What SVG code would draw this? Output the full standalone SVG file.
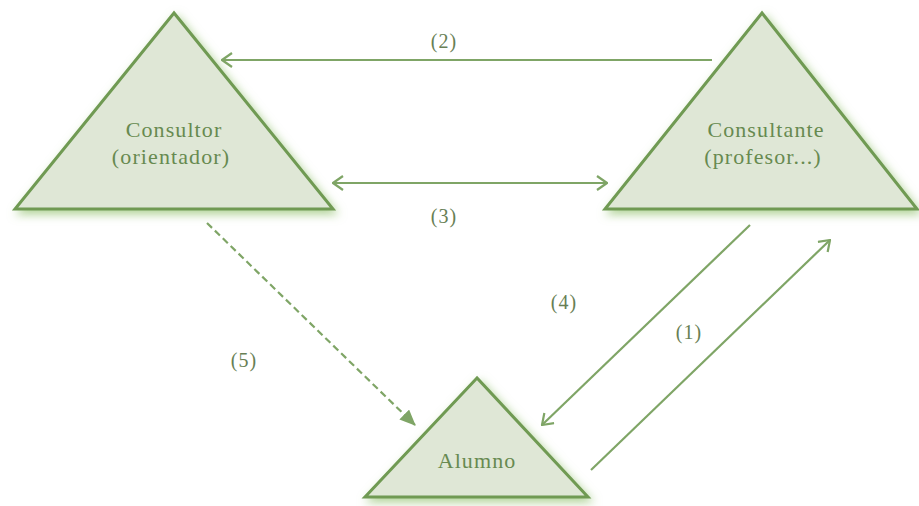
<svg xmlns="http://www.w3.org/2000/svg" width="919" height="506" viewBox="0 0 919 506">
<defs>
<filter id="glow" x="-20%" y="-20%" width="140%" height="140%">
<feGaussianBlur in="SourceAlpha" stdDeviation="5"/>
<feOffset dx="3" dy="4" result="b"/>
<feFlood flood-color="#8fbf6a" flood-opacity="0.7"/>
<feComposite in2="b" operator="in" result="s"/>
<feMerge><feMergeNode in="s"/><feMergeNode in="SourceGraphic"/></feMerge>
</filter>
<marker id="open" viewBox="0 0 12 16" refX="11" refY="8" markerWidth="12" markerHeight="16" markerUnits="userSpaceOnUse" orient="auto-start-reverse">
<path d="M1,1 L11,8 L1,15" fill="none" stroke="#7fa566" stroke-width="2.2"/>
</marker>
<marker id="solid" viewBox="0 0 16 14" refX="15" refY="7" markerWidth="16" markerHeight="14" markerUnits="userSpaceOnUse" orient="auto">
<path d="M0,0 L16,7 L0,14 Z" fill="#7fa566"/>
</marker>
</defs>
<style>
.tri{fill:#dfe7d6;stroke:#6f9a52;stroke-width:3;stroke-linejoin:miter;filter:url(#glow)}
.lbl{font-family:"Liberation Serif","Times New Roman",serif;font-size:22px;letter-spacing:1.1px;fill:#678a50;text-anchor:middle}
.num{font-family:"Liberation Serif","Times New Roman",serif;font-size:20px;letter-spacing:1px;fill:#687f55;text-anchor:middle}
.ln{fill:none;stroke:#7fa566;stroke-width:2.2}
</style>
<rect width="919" height="506" fill="#ffffff"/>
<g id="consultor">
<polygon class="tri" points="174,13 15,209 333,209"/>
<text class="lbl" x="174" y="137">Consultor</text>
<text class="lbl" x="171" y="164">(orientador)</text>
</g>
<g id="consultante">
<polygon class="tri" points="762,13 605,209 917,209"/>
<text class="lbl" x="766" y="137">Consultante</text>
<text class="lbl" x="763" y="164">(profesor...)</text>
</g>
<g id="alumno">
<polygon class="tri" points="477,378 365,497 588,497"/>
<text class="lbl" x="477" y="468">Alumno</text>
</g>
<g id="connectors">
<line class="ln" x1="712" y1="60" x2="222" y2="60" marker-end="url(#open)"/>
<line class="ln" x1="333" y1="183" x2="607" y2="183" marker-start="url(#open)" marker-end="url(#open)"/>
<line class="ln" x1="750" y1="225" x2="542" y2="425" marker-end="url(#open)"/>
<line class="ln" x1="591" y1="470" x2="830" y2="240" marker-end="url(#open)"/>
<line class="ln" x1="207" y1="223" x2="415" y2="425" stroke-dasharray="7,4" marker-end="url(#solid)"/>
<text class="num" x="444" y="48">(2)</text>
<text class="num" x="444" y="223">(3)</text>
<text class="num" x="564" y="309">(4)</text>
<text class="num" x="689" y="339">(1)</text>
<text class="num" x="244" y="367">(5)</text>
</g>
</svg>
